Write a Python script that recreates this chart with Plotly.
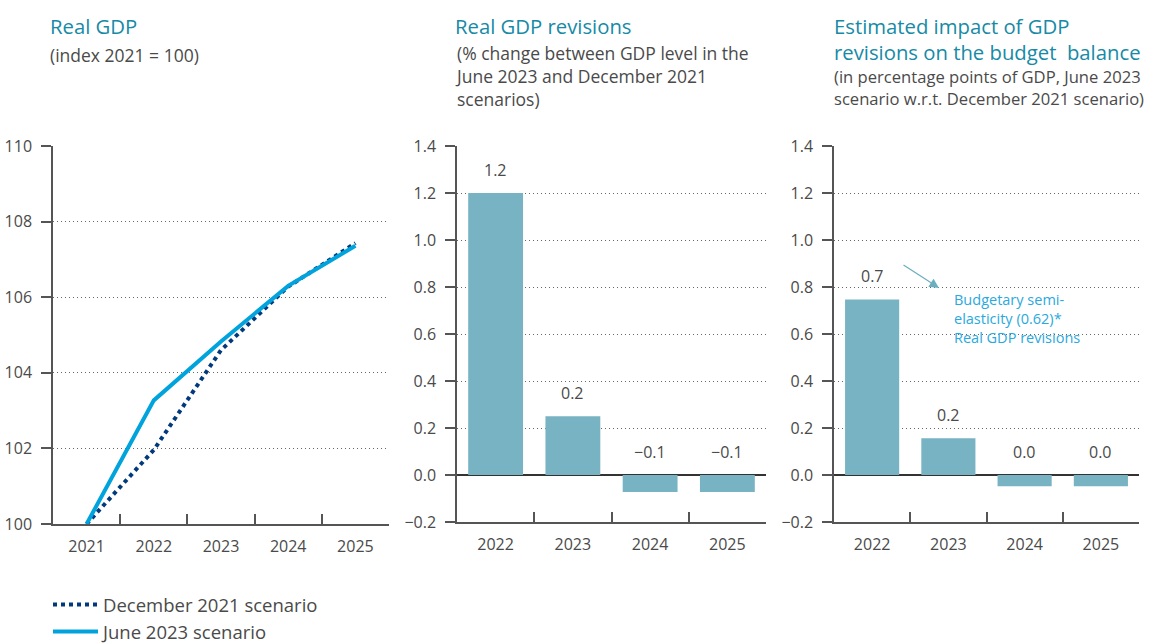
import plotly.graph_objects as go

# ---------------- data ----------------
line_years = ["2021", "2022", "2023", "2024", "2025"]
dec2021_scenario = [100.0, 101.96, 104.6, 106.28, 107.43]
jun2023_scenario = [100.0, 103.27, 104.83, 106.3, 107.36]

bar_years = ["2022", "2023", "2024", "2025"]
gdp_revisions = [1.2, 0.25, -0.072, -0.072]
gdp_revision_labels = ["1.2", "0.2", "\u22120.1", "\u22120.1"]

budget_impact = [0.747, 0.156, -0.048, -0.048]
budget_impact_labels = ["0.7", "0.2", "0.0", "0.0"]

# ---------------- style ----------------
W, H = 1154, 644
FONT = "Open Sans"
TXT = "#4a4a4a"
TEAL = "#168aa6"
BAR = "#78b3c3"
NAVY = "#003a7d"
BLUE = "#00a3dc"
AX = "#555555"


def px(x):
    return x / W


def py(y):
    return 1 - y / H


fig = go.Figure()

fig.add_trace(go.Scatter(x=line_years, y=dec2021_scenario, mode="lines",
                         name="December 2021 scenario",
                         line=dict(color=NAVY, width=4, dash="4px,4px"),
                         xaxis="x", yaxis="y"))
fig.add_trace(go.Scatter(x=line_years, y=jun2023_scenario, mode="lines",
                         name="June 2023 scenario",
                         line=dict(color=BLUE, width=4),
                         xaxis="x", yaxis="y"))

fig.add_trace(go.Bar(x=bar_years, y=gdp_revisions, marker=dict(color=BAR, line=dict(width=0)),
                     width=0.71, showlegend=False, xaxis="x2", yaxis="y2"))
fig.add_trace(go.Bar(x=bar_years, y=budget_impact, marker=dict(color=BAR, line=dict(width=0)),
                     width=0.71, showlegend=False, xaxis="x3", yaxis="y3"))

annotations = []
# value labels above bars (above zero for negative bars)
for xa, ya, vals, labs in (("x2", "y2", gdp_revisions, gdp_revision_labels),
                           ("x3", "y3", budget_impact, budget_impact_labels)):
    for i, (v, t) in enumerate(zip(vals, labs)):
        annotations.append(dict(x=i, y=max(v, 0), xref=xa, yref=ya, text=t,
                                showarrow=False, yanchor="middle", yshift=23,
                                font=dict(family=FONT, size=16, color=TXT)))


# titles (multi-line blocks centred on their vertical middle)
def text_block(x, ycenter, text, size, color):
    annotations.append(dict(x=px(x), y=py(ycenter), xref="paper", yref="paper",
                            xanchor="left", yanchor="middle", align="left", text=text,
                            showarrow=False, font=dict(family=FONT, size=size, color=color)))


TS, SS = 20.3, 17.5
text_block(48, 26, "Real GDP", TS, TEAL)
text_block(48, 55, "(index 2021 = 100)", SS, TXT)
text_block(453, 26, "Real GDP revisions", TS, TEAL)
text_block(453, 76.5, "(% change between GDP level in the<br>June 2023 and December 2021<br>scenarios)", SS, TXT)
text_block(832, 38.5, "Estimated impact of GDP<br>revisions on the budget  balance", TS, TEAL)
text_block(832, 87.5, "(in percentage points of GDP, June 2023<br>scenario w.r.t. December 2021 scenario)", 16.6, TXT)

# arrow annotation in the third panel
annotations.append(dict(x=0.877, y=0.796, xref="x3", yref="y3",
                        ax=0.392, ay=0.898, axref="x3", ayref="y3",
                        showarrow=True, arrowhead=2, arrowsize=1.6, arrowwidth=1.2,
                        arrowcolor="#6aaebf", text=""))
annotations.append(dict(x=1.05, y=0.795, xref="x3", yref="y3", xanchor="left", yanchor="top",
                        align="left", showarrow=False,
                        text="Budgetary semi-<br>elasticity (0.62)*<br>Real GDP revisions",
                        font=dict(family=FONT, size=14.5, color="#2aa9de")))

common_y = dict(showline=True, linecolor=AX, linewidth=1.5, ticks="outside", ticklen=10,
                tickcolor=AX, tickwidth=1.5, showgrid=True, gridcolor="#666666",
                griddash="1px,3px", gridwidth=1, ticklabelstandoff=6,
                tickfont=dict(family=FONT, size=16, color=TXT), fixedrange=True)
common_x = dict(type="category", showline=True, linecolor=AX, linewidth=1.5, ticks="inside",
                ticklen=10, tickcolor=AX, tickwidth=1.5, tickson="boundaries", showgrid=False,
                ticklabelstandoff=7, tickfont=dict(family=FONT, size=16, color=TXT),
                fixedrange=True)

fig.update_layout(
    width=W, height=H, margin=dict(l=0, r=0, t=0, b=0, autoexpand=False),
    paper_bgcolor="white", plot_bgcolor="white",
    font=dict(family=FONT, color=TXT),
    xaxis=dict(common_x, domain=[px(53), px(389)], anchor="y", range=[-0.5, 4.5]),
    yaxis=dict(common_y, domain=[py(524), py(146)], anchor="x", range=[100, 110],
               tickvals=[100, 102, 104, 106, 108, 110], zeroline=False),
    xaxis2=dict(common_x, domain=[px(457), px(766)], anchor="y2", range=[-0.5, 3.5]),
    yaxis2=dict(common_y, domain=[py(522), py(146)], anchor="x2", range=[-0.2, 1.4],
                dtick=0.2, tickformat=".1f", zeroline=True, zerolinecolor="#333333",
                zerolinewidth=1.5),
    xaxis3=dict(common_x, domain=[px(834), px(1139)], anchor="y3", range=[-0.5, 3.5]),
    yaxis3=dict(common_y, domain=[py(522), py(146)], anchor="x3", range=[-0.2, 1.4],
                dtick=0.2, tickformat=".1f", zeroline=True, zerolinecolor="#333333",
                zerolinewidth=1.5),
    showlegend=True,
    legend=dict(x=px(48), y=py(586), xanchor="left", yanchor="top", orientation="v",
                font=dict(family=FONT, size=18.5, color=TXT), bgcolor="rgba(0,0,0,0)",
                itemwidth=45, tracegroupgap=0),
    annotations=annotations,
)

fig.write_html("out.html")
